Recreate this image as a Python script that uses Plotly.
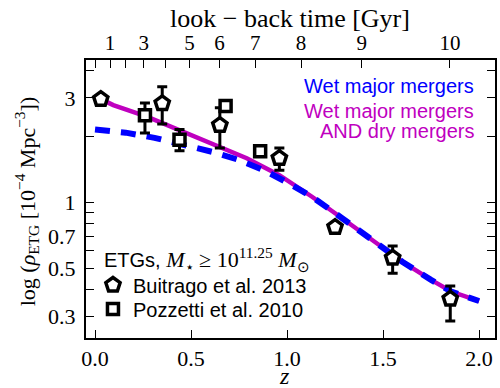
import plotly.graph_objects as go

# ---- data ----
buit_z = [0.03, 0.35, 0.65, 0.96, 1.25, 1.55, 1.85]
buit_rho = [2.96, 2.83, 2.25, 1.59, 0.77, 0.557, 0.362]
buit_err_plus = [0.0, 0.54, 0.45, 0.18, 0.0, 0.075, 0.053]
buit_err_minus = [0.0, 0.55, 0.48, 0.19, 0.0, 0.083, 0.075]

pozz_z = [0.26, 0.44, 0.68, 0.86]
pozz_rho = [2.50, 1.93, 2.75, 1.71]
pozz_err_plus = [0.34, 0.22, 0.0, 0.0]
pozz_err_minus = [0.43, 0.21, 0.0, 0.0]

wetdry_z = [0.03, 0.095, 0.27, 0.44, 0.61, 0.79, 0.96, 1.13, 1.285, 1.425, 1.6, 1.75, 1.855, 2.0]
wetdry_rho = [2.96, 2.78, 2.46, 2.14, 1.86, 1.59, 1.33, 1.06, 0.848, 0.687, 0.535, 0.442, 0.391, 0.354]

wet_z = [0.0, 0.16, 0.31, 0.475, 0.61, 0.74, 0.88, 1.01, 1.13, 1.285, 1.425, 1.6, 1.75, 1.855, 2.0]
wet_rho = [2.15, 2.08, 1.97, 1.83, 1.70, 1.57, 1.40, 1.22, 1.06, 0.848, 0.687, 0.535, 0.442, 0.391, 0.354]

y_tickvals = [0.3, 0.5, 0.7, 1, 3]
y_ticktext = ["0.3", "0.5", "0.7", "1", "3"]
y_minor = [0.4, 0.6, 0.8, 0.9, 2, 4]

x_tickvals = [0.0, 0.5, 1.0, 1.5, 2.0]
x_ticktext = ["0.0", "0.5", "1.0", "1.5", "2.0"]

lbt_z = [0.005, 0.078, 0.16, 0.254, 0.366, 0.492, 0.648, 0.834, 1.073, 1.389, 1.848]
lbt_text = ["", "1", "", "3", "", "5", "6", "7", "8", "9", "10"]

SERIF = "Liberation Serif"
SANS = "Liberation Sans"

fig = go.Figure()

fig.add_trace(go.Scatter(x=wetdry_z, y=wetdry_rho, mode="lines",
                         line=dict(color="#bf00bf", width=4.5),
                         showlegend=False, hoverinfo="skip"))
fig.add_trace(go.Scatter(x=wet_z, y=wet_rho, mode="lines",
                         line=dict(color="#0000ff", width=6, dash="15px,11px"),
                         showlegend=False, hoverinfo="skip"))

fig.add_trace(go.Scatter(
    x=buit_z, y=buit_rho, mode="markers", name="Buitrago et al. 2013",
    legend="legend",
    marker=dict(symbol="pentagon", size=15, color="white",
                line=dict(color="black", width=3.5)),
    error_y=dict(type="data", array=buit_err_plus, arrayminus=buit_err_minus,
                 color="black", thickness=3, width=5)))
fig.add_trace(go.Scatter(
    x=pozz_z, y=pozz_rho, mode="markers", name="Pozzetti et al. 2010",
    legend="legend2",
    marker=dict(symbol="square", size=11, color="white",
                line=dict(color="black", width=3.5)),
    error_y=dict(type="data", array=pozz_err_plus, arrayminus=pozz_err_minus,
                 color="black", thickness=3, width=5)))
# invisible trace to activate top axis
fig.add_trace(go.Scatter(x=[wet_z[0]], y=[wet_rho[0]], xaxis="x2", mode="markers",
                         marker=dict(opacity=0), showlegend=False, hoverinfo="skip"))

L, T, W, H = 86, 60, 411, 278
def px(x):
    return (x - L) / W
def py(y):
    return (T + H - y) / H

xr = [-0.047, 2.083]
leg_common = dict(xanchor="left", yanchor="middle", bgcolor="rgba(0,0,0,0)",
                  font=dict(family=SANS, size=20), itemsizing="trace")
fig.update_layout(
    width=500, height=388,
    margin=dict(l=L, r=500 - L - W, t=T, b=388 - T - H),
    paper_bgcolor="white", plot_bgcolor="white",
    font=dict(family=SERIF, size=22, color="black"),
    xaxis=dict(range=xr, tickvals=x_tickvals, ticktext=x_ticktext,
               ticks="inside", ticklen=8, tickwidth=1.2, tickcolor="black",
               showline=True, linewidth=2, linecolor="black", mirror=False,
               showgrid=False, zeroline=False,
               tickfont=dict(family=SERIF, size=22)),
    xaxis2=dict(range=xr, overlaying="x", side="top", tickvals=lbt_z, ticktext=lbt_text,
                ticks="inside", ticklen=8, tickwidth=1.2, tickcolor="black",
                showline=True, linewidth=2, linecolor="black",
                showgrid=False, zeroline=False,
                tickfont=dict(family=SERIF, size=21)),
    yaxis=dict(type="log", range=[-0.620, 0.650], tickvals=y_tickvals, ticktext=y_ticktext,
               ticks="inside", ticklen=8, tickwidth=1.2, tickcolor="black",
               showline=True, linewidth=2, linecolor="black", mirror="allticks",
               showgrid=False, zeroline=False,
               minor=dict(tickvals=y_minor, ticks="inside", ticklen=4, tickwidth=1.2,
                          tickcolor="black", showgrid=False),
               ticklabelstandoff=4,
               tickfont=dict(family=SERIF, size=22)),
    legend=dict(x=px(93), y=py(285), **leg_common),
    legend2=dict(x=px(93), y=py(309), **leg_common),
    showlegend=True,
)

ann = [
    dict(text="look − back time [Gyr]", x=291, y=18, font=dict(family=SERIF, size=26)),
    dict(text="<i>z</i>", x=285, y=376, font=dict(family=SERIF, size=24)),
    dict(text="log (<i>ρ</i><sub>ETG</sub> [10<sup>−4</sup> Mpc<sup>−3</sup>])",
         x=26, y=201, textangle=-90, font=dict(family=SERIF, size=22)),
    dict(text="Wet major mergers", x=478, y=86, xanchor="right",
         font=dict(family=SANS, size=20, color="#0000ff")),
    dict(text="Wet major mergers", x=478, y=111, xanchor="right",
         font=dict(family=SANS, size=20, color="#bf00bf")),
    dict(text="AND dry mergers", x=478, y=131, xanchor="right",
         font=dict(family=SANS, size=20, color="#bf00bf")),
    dict(text='ETGs, <span style="font-family:Liberation Serif;font-size:22px"><i>M</i><sub>⋆</sub> ≥ 10<sup>11.25</sup> <i>M</i><sub>⊙</sub></span>',
         x=102, y=259, xanchor="left", font=dict(family=SANS, size=20)),
]
annotations = []
for a in ann:
    a = dict(a)
    ax, ay = a.pop("x"), a.pop("y")
    annotations.append(dict(xref="paper", yref="paper",
                            x=px(ax), y=py(ay),
                            xanchor=a.pop("xanchor", "center"), yanchor="middle",
                            showarrow=False, **a))
fig.update_layout(annotations=annotations)

fig.write_html("out.html")
